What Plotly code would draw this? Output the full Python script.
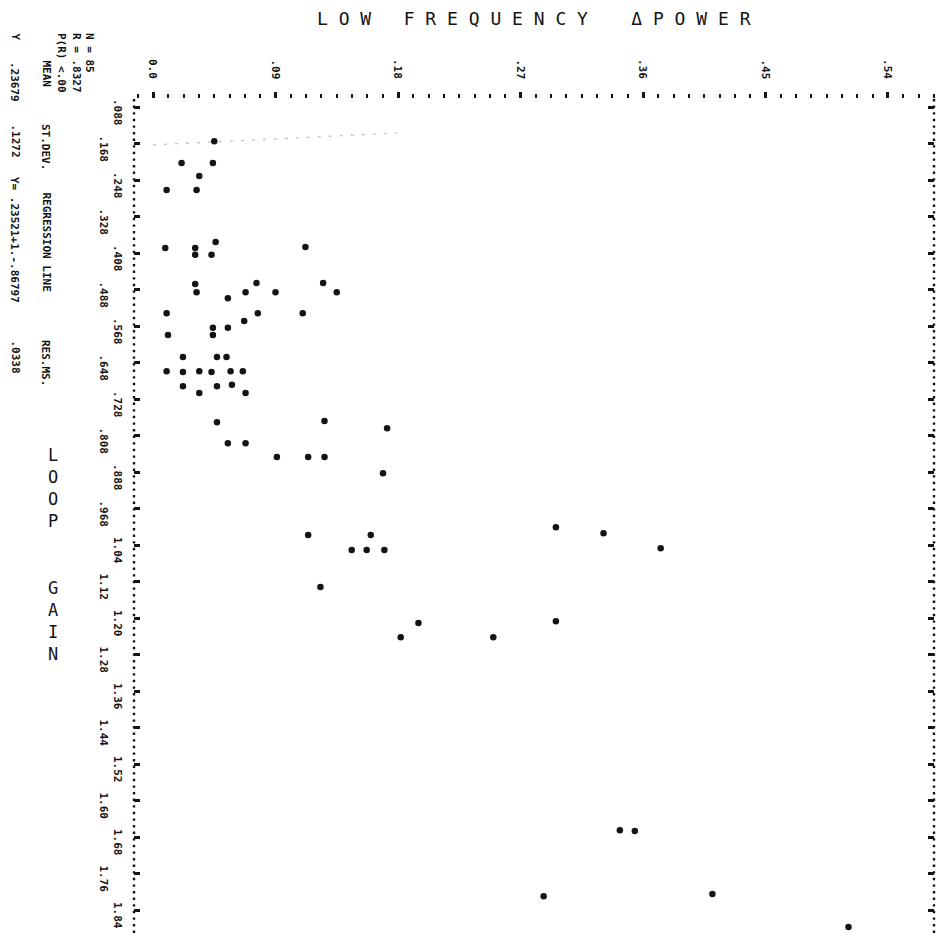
import plotly.graph_objects as go

# ---------------- data ----------------
power = [0.021, 0.044, 0.034, 0.010, 0.032, 0.045, 0.046, 0.009, 0.031, 0.031,
         0.043, 0.112, 0.031, 0.032, 0.076, 0.068, 0.090, 0.125, 0.135, 0.055,
         0.010, 0.077, 0.110, 0.067, 0.044, 0.055, 0.044, 0.011, 0.022, 0.047,
         0.054, 0.010, 0.022, 0.034, 0.043, 0.057, 0.066, 0.022, 0.034, 0.047,
         0.058, 0.068, 0.047, 0.126, 0.172, 0.055, 0.068, 0.091, 0.114, 0.126,
         0.169, 0.114, 0.160, 0.146, 0.157, 0.170, 0.123, 0.296, 0.331, 0.373,
         0.195, 0.182, 0.250, 0.296, 0.343, 0.354, 0.287, 0.411, 0.511]
gain = [0.211, 0.211, 0.239, 0.270, 0.270, 0.163, 0.384, 0.397, 0.397, 0.412,
        0.412, 0.395, 0.476, 0.494, 0.474, 0.494, 0.494, 0.474, 0.494, 0.507,
        0.540, 0.540, 0.540, 0.557, 0.572, 0.572, 0.588, 0.588, 0.636, 0.636,
        0.636, 0.667, 0.669, 0.667, 0.669, 0.667, 0.667, 0.700, 0.715, 0.700,
        0.697, 0.715, 0.779, 0.776, 0.792, 0.825, 0.825, 0.855, 0.855, 0.855,
        0.891, 1.026, 1.026, 1.059, 1.059, 1.059, 1.140, 1.009, 1.022, 1.055,
        1.219, 1.250, 1.250, 1.215, 1.673, 1.675, 1.818, 1.813, 1.885]

bleed_power = [0.0, 0.179]
bleed_gain = [0.171, 0.145]

x_tick_vals = [0.0, 0.09, 0.18, 0.27, 0.36, 0.45, 0.54]
x_tick_text = ["0.0", ".09", ".18", ".27", ".36", ".45", ".54"]

y_tick_vals = [0.088, 0.168, 0.248, 0.328, 0.408, 0.488, 0.568, 0.648, 0.728,
               0.808, 0.888, 0.968, 1.048, 1.128, 1.208, 1.288, 1.368, 1.448,
               1.528, 1.608, 1.688, 1.768, 1.848]
y_tick_text = [".088", ".168", ".248", ".328", ".408", ".488", ".568", ".648",
               ".728", ".808", ".888", ".968", "1.04", "1.12", "1.20", "1.28",
               "1.36", "1.44", "1.52", "1.60", "1.68", "1.76", "1.84"]

stat_labels = ["N = 85", "R = .8327", "P(R) <.00"]
table_heads = ["MEAN", "ST.DEV.", "REGRESSION LINE", "RES.MS."]
table_y_row = ["Y", ".23679", ".1272", "Y= .23521+1.-.86797", ".0338"]

x_title = "L O W   F R E Q U E N C Y    Δ P O W E R"
y_title_letters = ["L", "O", "O", "P", "\u00a0", "\u00a0", "G", "A", "I", "N"]

# ---------------- geometry ----------------
W, H = 940, 933
ML, MR, MT, MB = 134, 6, 99, 0
PW, PH = W - ML - MR, H - MT - MB


def px(xp):
    return (xp - ML) / PW


def py(yp):
    return 1 - (yp - MT) / PH


INK = "#141414"
MONO = "DejaVu Sans Mono"

fig = go.Figure()

fig.add_trace(go.Scatter(
    x=bleed_power, y=bleed_gain, mode="lines",
    line=dict(color="#c4c4c4", width=1.4, dash="3px,8px"),
    hoverinfo="skip", showlegend=False))

fig.add_trace(go.Scatter(
    x=power, y=gain, mode="markers",
    marker=dict(symbol="circle", size=6.5, color=INK),
    showlegend=False))

fig.update_layout(
    width=W, height=H,
    margin=dict(l=ML, r=MR, t=MT, b=MB, pad=0),
    paper_bgcolor="white", plot_bgcolor="white",
    showlegend=False,
    xaxis=dict(
        range=[-0.01396, 0.5738], side="top",
        showgrid=False, zeroline=False, showline=False,
        tickvals=x_tick_vals, showticklabels=False,
        ticks="outside", ticklen=6, tickwidth=2.5, tickcolor=INK,
        minor=dict(dtick=0.01125, tick0=0, ticks="outside", ticklen=4,
                   tickwidth=2.2, tickcolor=INK),
    ),
    yaxis=dict(
        range=[1.89841, 0.07047],
        showgrid=False, zeroline=False, showline=False,
        tickvals=y_tick_vals, showticklabels=False,
        ticks="inside", ticklen=6, tickwidth=3, tickcolor=INK,
        mirror="ticks",
    ),
)

# dotted frame lines (left and right)
for xx in (0, 1):
    fig.add_shape(type="line", xref="paper", yref="paper",
                  x0=xx, x1=xx, y0=0, y1=1,
                  line=dict(color=INK, width=2.4, dash="2.4px,4.2px"))

ann = []
# x tick labels
for v, t in zip(x_tick_vals, x_tick_text):
    ann.append(dict(x=v, xref="x", y=py(69), yref="paper", text=t,
                    textangle=90, showarrow=False, xanchor="center",
                    yanchor="middle",
                    font=dict(family=MONO, size=11, color=INK, weight="bold")))
# y tick labels (staggered in two columns)
for i, (v, t) in enumerate(zip(y_tick_vals, y_tick_text)):
    col = 118 if i % 2 == 0 else 103
    ann.append(dict(x=px(col), xref="paper", y=v, yref="y", text=t,
                    textangle=90, showarrow=False, xanchor="center",
                    yanchor="middle", yshift=-5,
                    font=dict(family=MONO, size=11, color=INK, weight="bold")))

# statistics block (rotated printout text)
stat_cols = [90, 77, 62]
for t, c in zip(stat_labels, stat_cols):
    ann.append(dict(x=px(c), xref="paper", y=py(31), yref="paper", text=t,
                    textangle=90, showarrow=False, xanchor="center",
                    yanchor="top",
                    font=dict(family=MONO, size=11, color=INK, weight="bold")))
head_starts = [58, 122, 190, 338]
for t, s in zip(table_heads, head_starts):
    ann.append(dict(x=px(46), xref="paper", y=py(s), yref="paper", text=t,
                    textangle=90, showarrow=False, xanchor="center",
                    yanchor="top",
                    font=dict(family=MONO, size=11, color=INK, weight="bold")))
row_starts = [31, 60, 122, 175, 338]
for t, s in zip(table_y_row, row_starts):
    ann.append(dict(x=px(15), xref="paper", y=py(s), yref="paper", text=t,
                    textangle=90, showarrow=False, xanchor="center",
                    yanchor="top",
                    font=dict(family=MONO, size=11, color=INK, weight="bold")))

# axis titles
ann.append(dict(x=px(315), xref="paper", y=py(19), yref="paper", text=x_title,
                showarrow=False, xanchor="left", yanchor="middle",
                font=dict(family=MONO, size=18, color=INK)))
ann.append(dict(x=px(53), xref="paper", y=py(443), yref="paper",
                text="<br>".join(y_title_letters),
                showarrow=False, xanchor="center", yanchor="top",
                font=dict(family=MONO, size=17, color=INK)))

fig.update_layout(annotations=ann)

fig.write_html("out.html")
